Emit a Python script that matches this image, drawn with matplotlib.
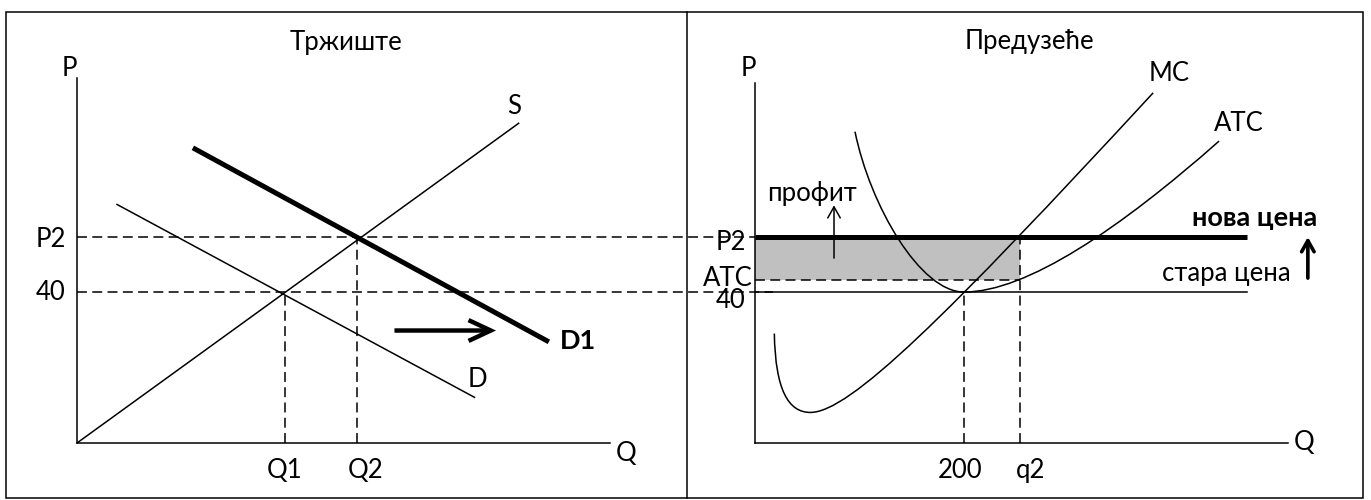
import matplotlib
matplotlib.use("Agg")
import matplotlib.pyplot as plt
from matplotlib.path import Path
from matplotlib.patches import PathPatch, FancyArrowPatch, Rectangle
from matplotlib.lines import Line2D

plt.rcParams['font.family'] = ['Lato', 'Open Sans', 'DejaVu Sans']

# ---------------- data: market (left panel) ----------------
market_title = "Тржиште"
supply_q = [0, 117]
supply_p = [0, 84.7]
demand_q = [10.6, 105.3]
demand_p = [63.2, 12.1]
demand1_q = [30.7, 125.0]
demand1_p = [78.2, 26.8]
Q1, Q2 = 55.0, 74.3
P1, P2 = 40, 54.6
shift_arrow_q = [84.1, 111.0]
shift_arrow_p = 29.8
market_ylabels = ["40", "P2"]
market_xlabels = ["Q1", "Q2"]

# ---------------- data: firm (right panel) ----------------
firm_title = "Предузеће"
q_min, q2 = 200, 254
atc_at_q2 = 43.2
price_line_end = 470.5
# MC curve: cubic Bezier control points (q, p)
mc_ctrl_q = [18.5, 19.5, 32, 53, 90, 181, 381]
mc_ctrl_p = [29.0, 14.0, 8.1, 8.1, 8.1, 32.8, 92.8]
# ATC curve: cubic Bezier control points (q, p)
atc_ctrl_q = [95.7, 110, 158, 200, 260, 350, 444]
atc_ctrl_p = [82.5, 63, 40, 40, 40, 57, 80]
firm_ylabels = ["P2", "ATC", "40"]
firm_xlabels = ["200", "q2"]

W, H = 1371, 500
fig = plt.figure(figsize=(W / 100, H / 100), dpi=100)

FS = 18.5
FSB = 19.5
lw_thin = 1.1
lw_thick = 3.6
dash = (6.5, 3.5)

# borders
fig.add_artist(Rectangle((6 / W, 2 / H), (1363 - 6) / W, (498 - 12) / H,
                         transform=fig.transFigure, fill=False, lw=1.1, ec='black'))
fig.add_artist(Line2D([687 / W, 687 / W], [2 / H, 488 / H], transform=fig.transFigure,
                      color='black', lw=1.1))

# ================= LEFT =================
axL = fig.add_axes([77 / W, 57 / H, 533 / W, 365 / H])
axL.set_xlim(0, 141.2)
axL.set_ylim(0, 96.7)
for s in ['top', 'right']:
    axL.spines[s].set_visible(False)
for s in ['left', 'bottom']:
    axL.spines[s].set_linewidth(lw_thin)
axL.set_xticks([])
axL.set_yticks([])
axL.patch.set_alpha(0)

axL.plot(supply_q, supply_p, color='black', lw=lw_thin)
axL.plot(demand_q, demand_p, color='black', lw=lw_thin)
axL.plot(demand1_q, demand1_p, color='black', lw=lw_thick, solid_capstyle='butt')
# dashed guides (extend into the firm panel)
axL.plot([0, 179.6], [P2, P2], color='black', lw=lw_thin, dashes=dash, clip_on=False)
axL.plot([0, 184.4], [P1, P1], color='black', lw=lw_thin, dashes=dash, clip_on=False)
axL.plot([Q1, Q1], [0, P1], color='black', lw=lw_thin, dashes=dash)
axL.plot([Q2, Q2], [0, P2], color='black', lw=lw_thin, dashes=dash)

axL.add_patch(FancyArrowPatch((shift_arrow_q[0], shift_arrow_p), (shift_arrow_q[1], shift_arrow_p),
                              arrowstyle='->,head_length=1.6,head_width=0.75', lw=3.2,
                              mutation_scale=10, shrinkA=0, shrinkB=0, color='black',
                              capstyle='butt', joinstyle='miter'))

axL.text(71.2, 106.0, market_title, ha='center', va='center', fontsize=FS)
axL.text(-2.0, 99.2, "P", ha='center', va='center', fontsize=FS, clip_on=False)
axL.text(145.4, -2.7, "Q", ha='center', va='center', fontsize=FS, clip_on=False)
axL.text(-3, P1, market_ylabels[0], ha='right', va='center', fontsize=FS)
axL.text(-3, P2 - 0.8, market_ylabels[1], ha='right', va='center', fontsize=FS)
axL.text(Q1, -7.4, market_xlabels[0], ha='center', va='center', fontsize=FS)
axL.text(Q2 + 2.2, -7.4, market_xlabels[1], ha='center', va='center', fontsize=FS)
axL.text(115.8, 89.1, "S", ha='center', va='center', fontsize=FS)
axL.text(106.1, 16.7, "D", ha='center', va='center', fontsize=FS)
axL.text(127.8, 27.0, "D1", ha='left', va='center', fontsize=FSB, fontweight='bold')

# ================= RIGHT =================
axR = fig.add_axes([755 / W, 57 / H, 533 / W, 360 / H])
axR.set_xlim(0, 510)
axR.set_ylim(0, 95.4)
for s in ['top', 'right']:
    axR.spines[s].set_visible(False)
for s in ['left', 'bottom']:
    axR.spines[s].set_linewidth(lw_thin)
axR.set_xticks([])
axR.set_yticks([])
axR.patch.set_alpha(0)

# profit rectangle
axR.add_patch(Rectangle((0, atc_at_q2), q2, P2 - atc_at_q2, facecolor='#c0c0c0',
                        edgecolor='none', zorder=1))

codes = [Path.MOVETO] + [Path.CURVE4] * 6
axR.add_patch(PathPatch(Path(list(zip(mc_ctrl_q, mc_ctrl_p)), codes), fill=False,
                        lw=lw_thin, ec='black', zorder=3))
axR.add_patch(PathPatch(Path(list(zip(atc_ctrl_q, atc_ctrl_p)), codes), fill=False,
                        lw=lw_thin, ec='black', zorder=3))

axR.plot([0, price_line_end], [P2, P2], color='black', lw=lw_thick, solid_capstyle='butt', zorder=4)
axR.plot([0, price_line_end], [P1, P1], color='black', lw=lw_thin, zorder=2)
axR.plot([0, q2], [atc_at_q2, atc_at_q2], color='black', lw=lw_thin, dashes=dash, zorder=2)
axR.plot([q2, q2], [0, P2], color='black', lw=lw_thin, dashes=dash, zorder=2)
axR.plot([q_min, q_min], [0, P1], color='black', lw=lw_thin, dashes=dash, zorder=2)

axR.add_patch(FancyArrowPatch((75.6, 49.0), (75.6, 63.0),
                              arrowstyle='->,head_length=0.8,head_width=0.45', lw=1.1,
                              mutation_scale=10, shrinkA=0, shrinkB=0, color='black'))
axR.add_patch(FancyArrowPatch((529, 43.7), (529, 54.6),
                              arrowstyle='->,head_length=0.8,head_width=0.45', lw=2.6,
                              mutation_scale=10, shrinkA=0, shrinkB=0, color='black',
                              clip_on=False))

axR.text(263, 106.5, firm_title, ha='center', va='center', fontsize=FS, clip_on=False)
axR.text(-6.1, 99.2, "P", ha='center', va='center', fontsize=FS, clip_on=False)
axR.text(525, 0, "Q", ha='center', va='center', fontsize=FS, clip_on=False)
axR.text(396, 98.0, "MC", ha='center', va='center', fontsize=FS, clip_on=False)
axR.text(463, 84.7, "ATC", ha='center', va='center', fontsize=FS, clip_on=False)
axR.text(54.5, 66.2, "профит", ha='center', va='center', fontsize=FS)
axR.text(478.5, 59.6, "нова цена", ha='center', va='center', fontsize=FSB,
         fontweight='bold', clip_on=False)
axR.text(450.7, 45.0, "стара цена", ha='center', va='center', fontsize=FS, clip_on=False)
axR.text(-9, P2 - 1.5, firm_ylabels[0], ha='right', va='center', fontsize=FS, clip_on=False)
axR.text(-2, atc_at_q2 + 0.5, firm_ylabels[1], ha='right', va='center', fontsize=FS, clip_on=False)
axR.text(-9, P1 - 2.2, firm_ylabels[2], ha='right', va='center', fontsize=FS, clip_on=False)
axR.text(196, -7.4, firm_xlabels[0], ha='center', va='center', fontsize=FS, clip_on=False)
axR.text(263.5, -7.4, firm_xlabels[1], ha='center', va='center', fontsize=FS, clip_on=False)

fig.savefig("out.png", dpi=100)
